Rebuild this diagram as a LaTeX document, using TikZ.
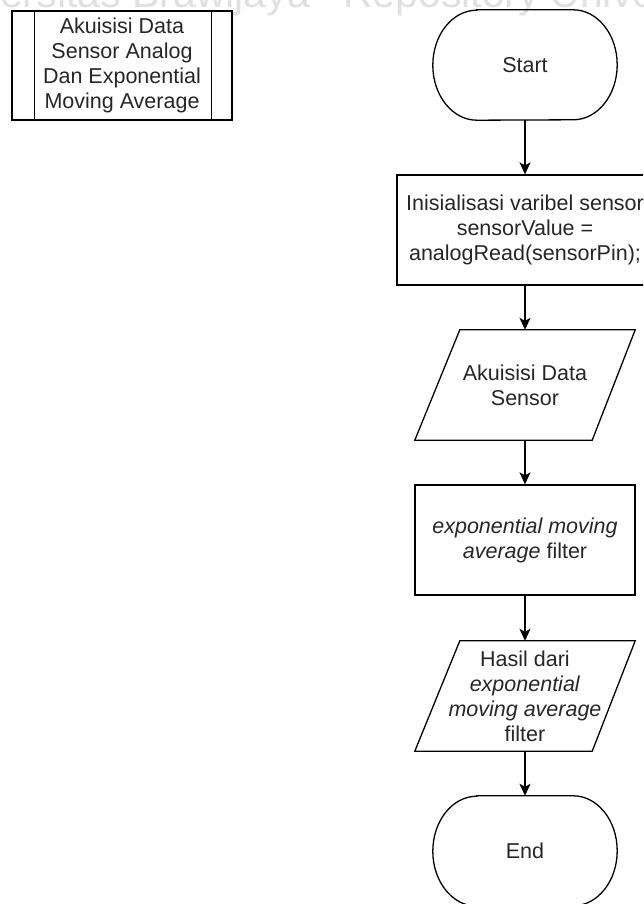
\documentclass[tikz,border=0pt]{standalone}
\usepackage{fontspec}
\setmainfont{Liberation Sans}
\usetikzlibrary{arrows.meta}

\begin{document}
\begin{tikzpicture}[x=1pt, y=-1pt,
  every node/.style={font=\fontsize{21.5}{25}\selectfont, text=black!85,
                     align=center, inner sep=0pt},
  outline/.style={draw=black, line width=1.3pt},
  boxnode/.style={minimum width=220pt, minimum height=110pt},
  termnode/.style={minimum width=184pt, minimum height=110pt},
  flow/.style={draw=black, line width=1.3pt,
               -{Stealth[length=12pt, width=11pt, inset=3pt]}},
  wmark/.style={font=\fontsize{41}{45}\selectfont, text=black!12}
]
\useasboundingbox (0,0) rectangle (643,904);
\clip (0,0) rectangle (643,904);

% faint page watermark along the top edge
\node[wmark, anchor=base west] (wma) at (0,8) {ersitas Brawijaya};
\node[wmark, anchor=base west] (wmb) at (343,8) {Repository Univers};

% predefined process (sub-routine) box
\node[outline, minimum width=220pt, minimum height=109pt] (sub) at (122,65.5)
  {Akuisisi Data\\Sensor Analog\\Dan Exponential\\Moving Average};
\draw[outline] ([xshift=23pt]sub.north west) -- ([xshift=23pt]sub.south west);
\draw[outline] ([xshift=-21pt]sub.north east) -- ([xshift=-21pt]sub.south east);

% terminator: Start
\node[termnode] (start) at (525,65) {Start};
\draw[outline] ([xshift=44pt]start.north west) -- ([xshift=-44pt]start.north east)
  arc[start angle=90, end angle=-90, x radius=44pt, y radius=55pt]
  -- ([xshift=44pt]start.south west)
  arc[start angle=270, end angle=90, x radius=44pt, y radius=55pt] -- cycle;

% initialisation step
\node[outline, minimum width=256pt, minimum height=110pt] (init) at (525,230)
  {Inisialisasi varibel sensor\\sensorValue =\\analogRead(sensorPin);};

% input: sensor data
\node[boxnode] (inp) at (525,385) {Akuisisi Data\\Sensor};
\draw[outline] ([xshift=45pt]inp.north west) -- (inp.north east)
  -- ([xshift=-43pt]inp.south east) -- (inp.south west) -- cycle;

% filter step
\node[outline, boxnode] (ema) at (525,540)
  {\textit{exponential moving}\\\textit{average} filter};

% output: filtered result
\node[boxnode] (outp) at (525,696)
  {Hasil dari\\\textit{exponential}\\\textit{moving average}\\filter};
\draw[outline] ([xshift=45pt]outp.north west) -- (outp.north east)
  -- ([xshift=-43pt]outp.south east) -- (outp.south west) -- cycle;

% terminator: End
\node[termnode] (stop) at (525,851) {End};
\draw[outline] ([xshift=44pt]stop.north west) -- ([xshift=-44pt]stop.north east)
  arc[start angle=90, end angle=-90, x radius=44pt, y radius=55pt]
  -- ([xshift=44pt]stop.south west)
  arc[start angle=270, end angle=90, x radius=44pt, y radius=55pt] -- cycle;

% connectors
\draw[flow] (start) -- (init);
\draw[flow] (init) -- (inp);
\draw[flow] (inp) -- (ema);
\draw[flow] (ema) -- (outp);
\draw[flow] (outp) -- (stop);
\end{tikzpicture}
\end{document}
